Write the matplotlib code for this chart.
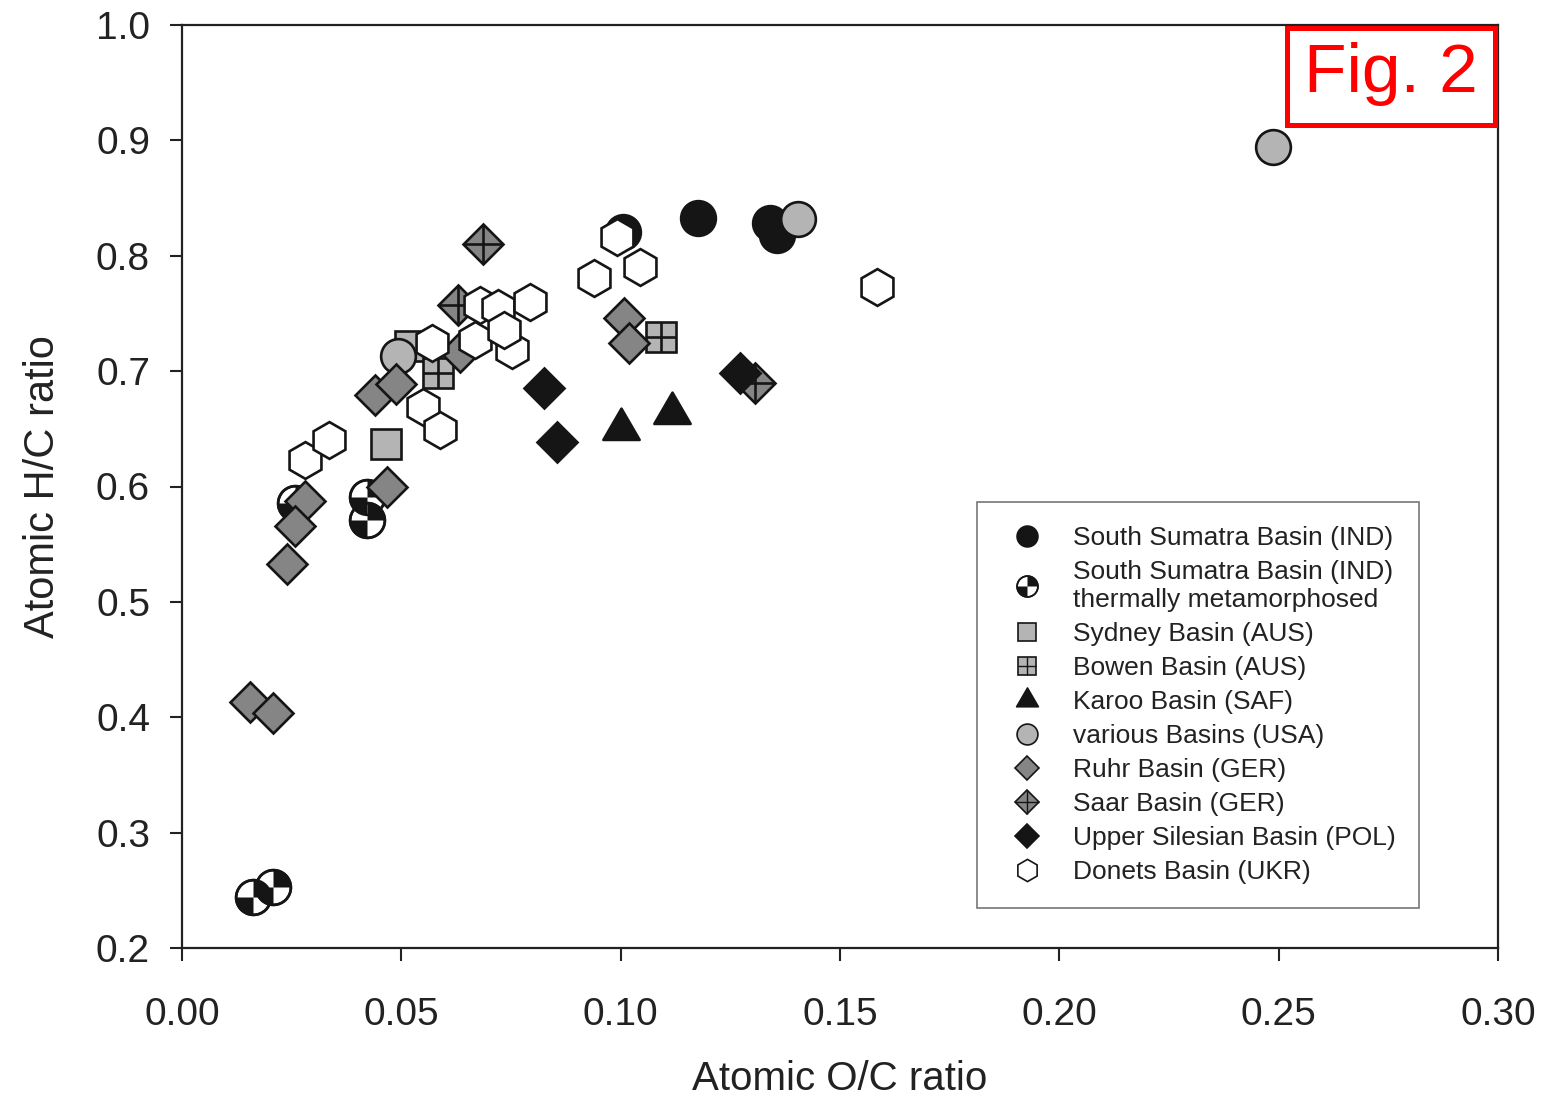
import matplotlib
matplotlib.use("Agg")
import matplotlib.pyplot as plt
import numpy as np
from matplotlib.lines import Line2D
from matplotlib.path import Path
from matplotlib.patches import Rectangle
from matplotlib.legend_handler import HandlerTuple

plt.rcParams["font.family"] = ["Liberation Sans", "DejaVu Sans"]

# ---- Data (atomic O/C, atomic H/C) ----
sumatra_x = [0.1005, 0.1176, 0.1340, 0.1356]
sumatra_y = [0.821, 0.833, 0.828, 0.818]

thermal_x = [0.0258, 0.0422, 0.0422, 0.0162, 0.0207]
thermal_y = [0.586, 0.591, 0.571, 0.244, 0.253]

sydney_x = [0.0465, 0.0520]
sydney_y = [0.637, 0.722]

bowen_x = [0.0584, 0.1092]
bowen_y = [0.698, 0.730]

karoo_x = [0.1001, 0.1118]
karoo_y = [0.650, 0.664]

usa_x = [0.2487, 0.1404, 0.0492]
usa_y = [0.894, 0.832, 0.713]

ruhr_x = [0.0440, 0.0488, 0.0634, 0.0468, 0.0280, 0.0258, 0.0239,
          0.0155, 0.0207, 0.1008, 0.1019]
ruhr_y = [0.679, 0.689, 0.717, 0.600, 0.587, 0.566, 0.533,
          0.413, 0.404, 0.746, 0.724]

saar_x = [0.0686, 0.0629, 0.1306]
saar_y = [0.810, 0.757, 0.690]

silesia_x = [0.0825, 0.0855, 0.1272]
silesia_y = [0.685, 0.639, 0.698]

donets_x = [0.0280, 0.0335, 0.0550, 0.0588, 0.0569, 0.0668, 0.0679,
            0.0720, 0.0793, 0.0752, 0.0735, 0.0992, 0.1044, 0.0939, 0.1584]
donets_y = [0.623, 0.640, 0.669, 0.649, 0.724, 0.727, 0.757,
            0.755, 0.760, 0.718, 0.736, 0.816, 0.790, 0.781, 0.773]

labels = [
    "South Sumatra Basin (IND)",
    "South Sumatra Basin (IND)\nthermally metamorphosed",
    "Sydney Basin (AUS)",
    "Bowen Basin (AUS)",
    "Karoo Basin (SAF)",
    "various Basins (USA)",
    "Ruhr Basin (GER)",
    "Saar Basin (GER)",
    "Upper Silesian Basin (POL)",
    "Donets Basin (UKR)",
]

# ---- custom markers ----
quarters = Path.make_compound_path(Path.wedge(0, 90), Path.wedge(180, 270))
tri = Path([(0, 2), (-1.74, -1), (1.74, -1), (0, 2)],
           [Path.MOVETO, Path.LINETO, Path.LINETO, Path.CLOSEPOLY])

BLACK = "#151515"
LIGHT = "#b4b4b4"
MID = "#858585"
EW = 1.9

fig = plt.figure(figsize=(15.44, 10.97), dpi=100)
ax = fig.add_axes([182 / 1544, 1 - 948 / 1097, (1498 - 182) / 1544, (948 - 25) / 1097])


def pts(x, y, **kw):
    ax.plot(x, y, linestyle="none", markeredgecolor=BLACK, markeredgewidth=EW, **kw)


pts(sumatra_x, sumatra_y, marker="o", ms=25, markerfacecolor=BLACK)
pts(thermal_x, thermal_y, marker="o", ms=25, markerfacecolor="white")
ax.plot(thermal_x, thermal_y, linestyle="none", marker=quarters, ms=25,
        markerfacecolor=BLACK, markeredgewidth=0)
pts(thermal_x, thermal_y, marker="o", ms=25, markerfacecolor="none")
pts(sydney_x, sydney_y, marker="s", ms=21.5, markerfacecolor=LIGHT)
pts(bowen_x, bowen_y, marker="s", ms=21.5, markerfacecolor=LIGHT)
pts(bowen_x, bowen_y, marker="+", ms=21.5)
pts(karoo_x, karoo_y, marker=tri, ms=30, markerfacecolor=BLACK)
pts(usa_x, usa_y, marker="o", ms=25, markerfacecolor=LIGHT)
pts(ruhr_x, ruhr_y, marker="D", ms=20.5, markerfacecolor=MID)
pts(saar_x, saar_y, marker="D", ms=20.5, markerfacecolor=MID)
pts(saar_x, saar_y, marker="+", ms=29)
pts(silesia_x, silesia_y, marker="D", ms=20.5, markerfacecolor=BLACK)
pts(donets_x, donets_y, marker="h", ms=26.5, markerfacecolor="white")

ax.set_xlim(0, 0.30)
ax.set_ylim(0.2, 1.0)
ax.set_xticks(np.arange(0, 0.301, 0.05))
ax.set_yticks(np.arange(0.2, 1.001, 0.1))
ax.xaxis.set_major_formatter(plt.FuncFormatter(lambda v, _: f"{v:.2f}"))
ax.yaxis.set_major_formatter(plt.FuncFormatter(lambda v, _: f"{v:.1f}"))
ax.tick_params(direction="out", length=9, width=1.5, colors="#222",
               top=False, right=False)
ax.tick_params(axis="x", labelsize=28, pad=26)
ax.tick_params(axis="y", labelsize=28, pad=14)
for sp in ax.spines.values():
    sp.set_linewidth(1.6)
    sp.set_color("#222")

ax.set_xlabel("Atomic O/C ratio", fontsize=29, color="#222", labelpad=20)
ax.set_ylabel("Atomic H/C ratio", fontsize=30, color="#222", labelpad=24)

# ---- legend ----
def h(marker, ms, fc, ew=1.2):
    return Line2D([0], [0], linestyle="none", marker=marker, ms=ms,
                  markerfacecolor=fc, markeredgecolor=BLACK, markeredgewidth=ew)


handles = [
    h("o", 15, BLACK),
    (h("o", 15, "white"),
     Line2D([0], [0], linestyle="none", marker=quarters, ms=15,
            markerfacecolor=BLACK, markeredgewidth=0),
     h("o", 15, "none")),
    h("s", 13, LIGHT),
    (h("s", 13, LIGHT), h("+", 13, "none", 1.0)),
    h(tri, 18, BLACK),
    h("o", 15, LIGHT),
    h("D", 12.5, MID),
    (h("D", 12.5, MID), h("+", 17.5, "none", 1.0)),
    h("D", 12.5, BLACK),
    h("h", 16, "white"),
]
leg = ax.legend(handles, labels, loc="upper left", bbox_to_anchor=(0.604, 0.483),
                borderaxespad=0, fontsize=19, frameon=True, fancybox=False,
                edgecolor="#555", handlelength=2.0, handletextpad=0.73,
                labelspacing=0.38, borderpad=0.9,
                handler_map={tuple: HandlerTuple(ndivide=1)})
leg.get_frame().set_linewidth(1.2)
for t in leg.get_texts():
    t.set_color("#222")

# ---- "Fig. 2" tag ----
fig.add_artist(Rectangle((1287 / 1544, 1 - 125 / 1097), (1495 - 1287) / 1544,
                         (125 - 28) / 1097, transform=fig.transFigure,
                         facecolor="white", edgecolor="red", lw=3.6, zorder=10))
fig.text((1287 + 1495) / 2 / 1544, 1 - 74 / 1097, "Fig. 2", color="red",
         fontsize=50, ha="center", va="center", zorder=11)

fig.savefig("out.png", dpi=100, facecolor="white")
